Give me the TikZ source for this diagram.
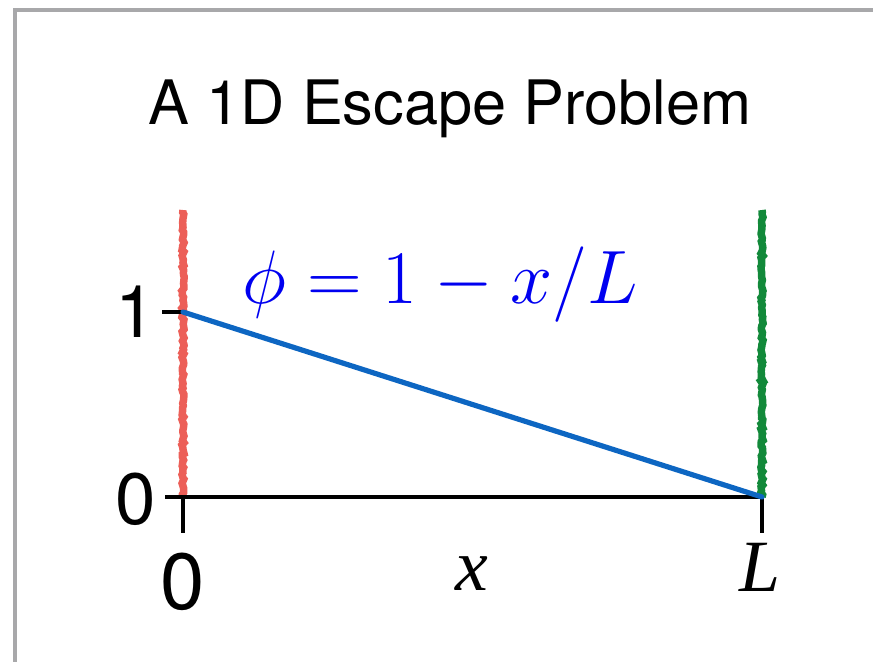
\RequirePackage{fix-cm}
\documentclass[tikz,border=0pt]{standalone}
\usepackage{fontspec}
\setsansfont{TeX Gyre Heros}
\newfontfamily\timesfont{Liberation Serif}
\usepackage{tikz}
\usetikzlibrary{decorations.pathmorphing}
\definecolor{escFrame}{HTML}{A8A8AA}
\definecolor{escInk}{HTML}{000000}
\definecolor{escRed}{HTML}{EC5F58}
\definecolor{escGreen}{HTML}{12893A}
\definecolor{escBlue}{HTML}{0D66C2}
\definecolor{escLabel}{HTML}{0000F0}
\newcommand{\bigsans}[1]{\sffamily\fontsize{#1}{#1}\selectfont}

\begin{document}
\begin{tikzpicture}[
  x=1bp,y=-1bp,
  every node/.style={inner sep=0pt,outer sep=0pt},
  frame/.style ={draw=escFrame,line width=3.5bp},
  axisln/.style ={draw=escInk,line width=3.2bp},
  wall/.style ={line width=7.5bp,decorate,decoration={random steps,segment length=2.5bp,amplitude=1.1bp}},
  profile/.style ={draw=escBlue,line width=5.2bp},
  ticklbl/.style ={font=\bigsans{73}},
  varlbl/.style ={font=\timesfont\itshape\fontsize{74}{74}\selectfont}
]
\useasboundingbox (0,0) rectangle (873,662);
% frame
\draw[frame] (15,662) -- (15,10) -- (873,10);

% title
\node[font=\bigsans{61.5},anchor=base] (title) at (450,125) {A 1D Escape Problem};

% key points
\coordinate (o)   at (183,497);
\coordinate (l)   at (762,497);
\coordinate (one) at (183,312);
\coordinate (y0)  at (165,497);
\coordinate (y1)  at (162,312);
\coordinate (xt0) at (183,533);
\coordinate (xtl) at (762,533);
\coordinate (rtop) at (183,210);
\coordinate (gtop) at (762,210);

% absorbing walls
\draw[wall,escRed]   (rtop) -- (o);
\draw[wall,escGreen] (gtop) -- (l);

% axes and ticks
\draw[axisln] (y0) -- (l);
\draw[axisln] (y1) -- (one);
\draw[axisln] (o) -- (xt0);
\draw[axisln] (l) -- (xtl);

% linear solution
\draw[profile,line cap=round] (one) -- (l);
\node[text=escLabel,anchor=base,font=\fontsize{76}{76}\selectfont] (phi) at (440,303) {$\phi = 1 - x/L$};

% tick labels
\node[ticklbl,anchor=base east] (lbly1) at (156,337) {1};
\node[ticklbl,anchor=base east] (lbly0) at (156,524) {0};
\node[font=\bigsans{80},anchor=base] (lblx0) at (183,609) {0};
\node[varlbl,anchor=base] (lblx) at (472,590) {x};
\node[varlbl,anchor=base] (lblL) at (760,591) {L};
\end{tikzpicture}
\end{document}
